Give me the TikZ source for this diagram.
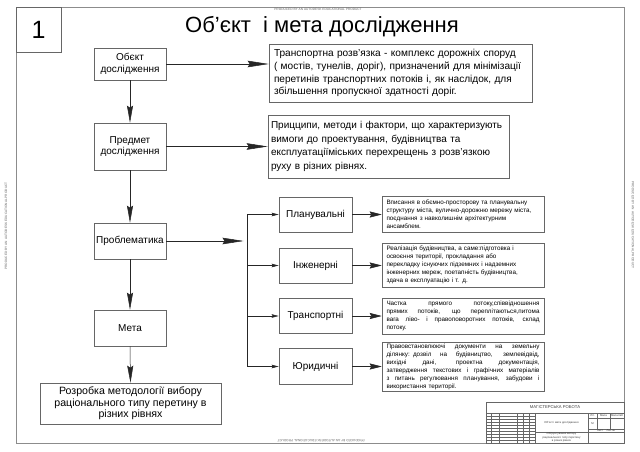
\documentclass[tikz,border=0pt]{standalone}
\usepackage{fontspec}
\setmainfont{Liberation Sans}
\usetikzlibrary{arrows.meta}
\newcommand{\jl}[1]{\makebox[153pt][s]{\spaceskip=0.28em plus 1fil\relax #1}}
\begin{document}
\begin{tikzpicture}[x=1pt,y=-1pt,
 frame/.style={draw=black!45,line width=0.6pt},
 box/.style={draw=black!60,line width=0.6pt,inner sep=0pt,align=center,font=\fontsize{10}{11.5}\selectfont},
 tbox/.style={draw=black!60,line width=0.6pt,inner xsep=5pt,inner ysep=0pt,align=left,font=\fontsize{10.1}{12.8}\selectfont},
 sbox/.style={draw=black!60,line width=0.5pt,inner xsep=4.5pt,inner ysep=0pt,align=left,text width=153pt,minimum height=#1,font=\fontsize{6.3}{8}\selectfont},
 conn/.style={draw=black!85,line width=0.5pt},
 bigarrow/.style={conn,-{Stealth[length=21pt,width=6.5pt,inset=2pt]}},
 midarrow/.style={conn,-{Stealth[length=17pt,width=6pt,inset=2pt]}},
 rarrow/.style={conn,-{Stealth[length=12pt,width=6pt,inset=1.5pt]}},
 smallarrow/.style={conn,-{Stealth[length=7pt,width=3.5pt,inset=1pt]}},
 stamp/.style={font=\fontsize{3.2}{3.5}\selectfont,text=black!60,inner sep=0pt},
 tiny/.style={font=\fontsize{2.8}{3.4}\selectfont,inner sep=0pt,align=center,text=black!75},
 tb/.style={draw=black!60,line width=0.3pt}
]
\useasboundingbox[fill=white] (0,0) rectangle (640,452);
% frame
\draw[frame] (16,7) rectangle (624,443);
\node[stamp] (st1) at (318,9.5) {PRODUCED BY AN AUTODESK EDUCATIONAL PRODUCT};
\node[stamp,rotate=180] (st2) at (321,441) {PRODUCED BY AN AUTODESK EDUCATIONAL PRODUCT};
\node[stamp,rotate=90] (st3) at (6,226) {PRODUCED BY AN AUTODESK EDUCATIONAL PRODUCT};
\node[stamp,rotate=-90] (st4) at (633,225) {PRODUCED BY AN AUTODESK EDUCATIONAL PRODUCT};
% number box and title
\node[box,minimum width=45pt,minimum height=45pt,font=\fontsize{25}{25}\selectfont] (num) at (38.5,29.5) {1};
\node[font=\fontsize{22}{24}\selectfont,anchor=base,inner sep=0pt] (title) at (322,33) {Об'єкт\ \ і мета дослідження};
% left column
\node[box,minimum width=72pt,minimum height=32pt] (obj) at (130,64) {Обєкт\\дослідження};
\node[box,minimum width=72pt,minimum height=47pt] (pred) at (130,146.5) {Предмет\\дослідження};
\node[box,minimum width=72pt,minimum height=36pt] (prob) at (130,241) {Проблематика};
\node[box,minimum width=72pt,minimum height=36pt] (meta) at (130,328) {Мета};
\node[box,minimum width=181pt,minimum height=41pt,font=\fontsize{10.6}{11.7}\selectfont] (goal) at (130.5,403.5) {Розробка методології вибору\\раціонального типу перетину в\\різних рівнях};
% big text boxes
\node[tbox,text width=253pt,minimum height=58pt] (t1) at (400.5,73) {Транспортна розв'язка - комплекс дорожніх споруд\\( мостів, тунелів, доріг), призначений для мінімізації\\перетинів транспортних потоків і, як наслідок, для\\збільшення пропускної здатності доріг.};
\node[tbox,text width=235pt,inner xsep=3pt,minimum height=63pt,font=\fontsize{10}{13.5}\selectfont] (t2) at (388.5,146.5) {Прицципи, методи і фактори, що характеризують\\вимоги до проектування, будівництва та\\експлуатаціїміських перехрещень з розв'язкою\\руху в різних рівнях.};
% small boxes
\node[box,minimum width=73pt,minimum height=35pt] (plan) at (315.5,214.5) {Планувальні};
\node[box,minimum width=73pt,minimum height=35pt] (inzh) at (315.5,265.5) {Інженерні};
\node[box,minimum width=73pt,minimum height=35pt] (trans) at (315.5,316) {Транспортні};
\node[box,minimum width=73pt,minimum height=36pt] (yur) at (315.5,366.5) {Юридичні};
% small text boxes
\node[sbox=36pt] (ta) at (463,214) {Вписання в обємно-просторову та планувальну\\структуру міста, вулично-дорожню мережу міста,\\поєднання з навколишнім архітектурним\\ансамблем.};
\node[sbox=44pt] (tb) at (463,265) {Реалізація будівництва, а саме:підготовка і\\освоєння території, прокладання або\\перекладку існуючих підземних і надземних\\інженерних мереж, поетапність будівництва,\\здача в експлуатацію і т. д.};
\node[sbox=36pt] (tc) at (463,316) {\jl{Частка прямого потоку,співвідношення}\\\jl{прямих потоків, що переплітаються,питома}\\\jl{вага ліво- і правоповоротних потоків, склад}\\потоку.};
\node[sbox=49pt] (td) at (463,366.5) {\jl{Правовстановлюючі документи на земельну}\\\jl{ділянку: дозвіл на будівництво, землевідвід,}\\\jl{вихідні дані, проектна документація,}\\\jl{затвердження текстових і графічних матеріалів}\\\jl{з питань регулювання планування, забудови і}\\використання території.};
% connectors
\draw[bigarrow] (obj.east) -- (obj.east -| t1.west);
\draw[bigarrow] (pred.east) -- (pred.east -| t2.west);
\draw[midarrow] (obj.south) -- (pred.north);
\draw[midarrow] (pred.south) -- (prob.north);
\draw[midarrow] (prob.south) -- (meta.north);
\draw[midarrow] (meta.south) -- (goal.north);
\coordinate (bustop) at (247,214.5);
\coordinate (busbot) at (247,366.5);
\coordinate (busin) at (243.5,241);
\draw[bigarrow] (prob.east) -- (busin);
\draw[conn] (bustop) -- (busbot);
\draw[smallarrow] (bustop) -- (plan.west);
\draw[smallarrow] (inzh.west -| bustop) -- (inzh.west);
\draw[smallarrow] (trans.west -| bustop) -- (trans.west);
\draw[smallarrow] (busbot) -- (yur.west);
\draw[rarrow] (plan.east) -- (plan.east -| ta.west);
\draw[rarrow] (inzh.east) -- (inzh.east -| tb.west);
\draw[rarrow] (trans.east) -- (trans.east -| tc.west);
\draw[rarrow] (yur.east) -- (yur.east -| td.west);
% title block
\draw[tb] (486,402) rectangle (624,443);
\draw[tb] (486,413) -- (624,413);
\node[tiny,font=\fontsize{4.2}{5}\selectfont] (tbh) at (555,407.5) {МАГІСТЕРСЬКА РОБОТА};
\draw[tb] (535,413) -- (535,443);
\draw[tb] (588,413) -- (588,443);
\foreach \yy in {416,419,422,425,428,431,434,437,440} {\draw[tb] (486,\yy) -- (535,\yy);}
\foreach \xx in {491,499,517,523,529} {\draw[tb] (\xx,413) -- (\xx,443);}
\draw[tb] (535,432) -- (624,432);
\draw[tb] (588,418) -- (624,418);
\draw[tb] (588,429) -- (624,429);
\draw[tb] (597,413) -- (597,429);
\draw[tb] (610,413) -- (610,429);
\node[tiny] (tbm) at (561.5,423) {Об'єкт і мета дослідження};
\node[tiny] (tbb) at (561.5,437.5) {Обґрунтування вибору\\раціонального типу перетину\\в різних рівнях};
\node[tiny] (tl1) at (592.5,415.5) {Літ.};
\node[tiny] (tl2) at (603.5,415.5) {Маса};
\node[tiny] (tl3) at (617,415.5) {Масштаб};
\node[tiny] (tl4) at (592.5,423.5) {М};
\node[tiny] (tl5) at (606,430.5) {Лист \quad Листів};
\end{tikzpicture}
\end{document}
